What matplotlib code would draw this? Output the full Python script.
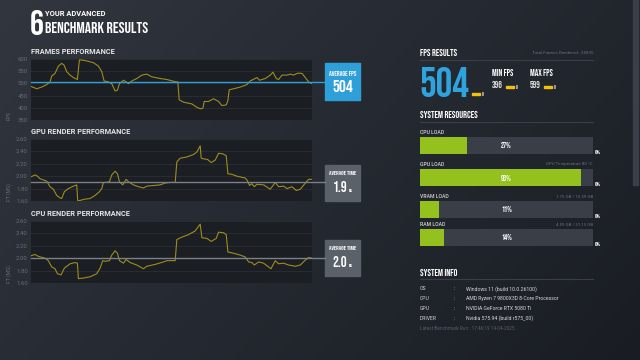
import numpy as np
import matplotlib
matplotlib.use("Agg")
import matplotlib.pyplot as plt
from matplotlib.patches import Rectangle
from matplotlib.ticker import FormatStrFormatter

W, H = 640, 360

# ---- data ----
fps_idx = [0, 17, 32, 47, 57, 62, 72, 82, 92, 99, 107, 117, 127, 139, 145, 152, 167, 187, 202, 212,
           219, 232, 242, 252, 259, 265, 277, 285, 292, 302, 317, 332, 347, 362, 387, 407, 432, 440, 444, 457,
           482, 497, 507, 515, 519, 532, 547, 562, 572, 585, 590, 594, 607, 627, 647, 657, 677, 685, 702, 717,
           725, 735, 742, 752, 767, 777, 787, 799, 812, 822, 832, 842]
fps_vals = [488, 478, 485, 495, 506, 530, 541, 571, 582, 575, 548, 534, 524, 516, 596, 596, 592, 585, 571, 548,
            510, 506, 499, 469, 472, 499, 513, 506, 499, 510, 520, 534, 538, 527, 520, 516, 507, 506, 433, 423,
            416, 402, 396, 398, 426, 426, 437, 426, 409, 412, 430, 474, 478, 485, 495, 510, 524, 513, 520, 534,
            546, 520, 516, 534, 534, 538, 534, 542, 541, 524, 506, 499]

gpu_idx = [0, 12, 17, 27, 47, 57, 67, 77, 87, 92, 100, 112, 127, 137, 140, 147, 162, 177, 192, 205,
           212, 217, 227, 235, 242, 252, 259, 265, 275, 285, 292, 307, 322, 337, 347, 367, 387, 402, 417, 432,
           437, 447, 467, 487, 497, 507, 510, 517, 529, 540, 552, 562, 575, 585, 590, 602, 617, 642, 647, 655,
           662, 669, 677, 697, 717, 732, 742, 757, 767, 782, 795, 807, 819, 832, 842]
gpu_ms = [1.99, 2.02, 2.01, 1.96, 1.92, 1.83, 1.79, 1.69, 1.65, 1.64, 1.75, 1.80, 1.84, 1.86, 1.60, 1.61, 1.63, 1.64, 1.69, 1.75,
          1.80, 1.90, 1.90, 1.91, 2.02, 2.08, 2.04, 1.91, 1.86, 1.95, 1.91, 1.86, 1.83, 1.81, 1.84, 1.85, 1.86, 1.89, 1.90, 1.90,
          2.23, 2.29, 2.31, 2.35, 2.39, 2.49, 2.29, 2.28, 2.27, 2.22, 2.26, 2.37, 2.36, 2.33, 2.04, 2.03, 2.00, 1.97, 1.94, 1.85,
          1.88, 1.83, 1.87, 1.86, 1.79, 1.90, 1.83, 1.84, 1.80, 1.83, 1.77, 1.79, 1.87, 1.95, 1.95]

cpu_idx = [0, 12, 22, 42, 52, 62, 72, 79, 90, 100, 117, 132, 139, 142, 157, 177, 197, 207, 215, 222,
           235, 242, 252, 259, 265, 277, 285, 297, 317, 337, 347, 372, 397, 407, 432, 437, 452, 472, 492, 507,
           512, 527, 540, 555, 562, 577, 585, 590, 607, 627, 642, 652, 662, 669, 682, 697, 719, 732, 742, 757,
           772, 792, 807, 822, 832, 842]
cpu_ms = [2.04, 2.06, 2.03, 2.00, 1.96, 1.86, 1.83, 1.75, 1.73, 1.84, 1.91, 1.93, 1.92, 1.67, 1.68, 1.70, 1.75, 1.84, 1.96, 1.95,
          1.96, 2.05, 2.12, 2.08, 1.96, 1.92, 1.98, 1.93, 1.89, 1.83, 1.87, 1.90, 1.94, 1.96, 1.96, 2.30, 2.34, 2.38, 2.44, 2.55,
          2.33, 2.32, 2.27, 2.32, 2.42, 2.41, 2.38, 2.10, 2.08, 2.05, 2.02, 1.94, 1.93, 1.89, 1.94, 1.92, 1.83, 1.96, 1.91, 1.92,
          1.89, 1.87, 1.89, 1.97, 2.01, 2.00]

avg_fps = 504
avg_gpu = 1.9
avg_cpu = 2.0
min_fps = 396
max_fps = 599
total_frames = 35835

res_names = ["CPU LOAD", "GPU LOAD", "VRAM LOAD", "RAM LOAD"]
res_pct = [27, 93, 11, 14]
res_notes = ["", "GPU Temperature 80 °C", "1.75 GB / 15.59 GB", "4.59 GB / 31.15 GB"]

info_keys = ["OS", "CPU", "GPU", "DRIVER"]
info_vals = ["Windows 11 (build 10.0.26100)", "AMD Ryzen 7 9800X3D 8-Core Processor",
             "NVIDIA GeForce RTX 5080 Ti", "Nvidia 575.94 (build r575_00)"]
run_time = "17:46:19 14-04-2025"

BEBAS = "Bebas Neue"
ROBOTO = "Roboto"
LINE = "#a08c1e"
TICK = "#666c75"

fig = plt.figure(figsize=(W / 100, H / 100), dpi=100)

# background layer in pixel coordinates
bg = fig.add_axes([0, 0, 1, 1], zorder=0)
bg.set_xlim(0, W)
bg.set_ylim(H, 0)
bg.axis("off")
yy, xx = np.mgrid[0:H, 0:W]
a = 0.65 * xx / W + 0.35 * yy / H
c0 = np.array([0x31, 0x36, 0x3f]) / 255
c1 = np.array([0x19, 0x1d, 0x23]) / 255
grad = c0[None, None, :] * (1 - a[..., None]) + c1[None, None, :] * a[..., None]
bg.imshow(grad, extent=[0, W, H, 0], aspect="auto")
bg.add_patch(Rectangle((633, 0), 5, 185, color="#3b4048"))


def px_axes(x0, y0, x1, y1):
    return fig.add_axes([x0 / W, 1 - y1 / H, (x1 - x0) / W, (y1 - y0) / H], zorder=2)


def txt(x, y, s, size, color="white", font=ROBOTO, weight="normal", ha="left", va="center"):
    bg.text(x, y, s, fontsize=size, color=color, family=font, weight=weight, ha=ha, va=va)


# ---- header ----
txt(30, 35, "6", 25, font=BEBAS, va="baseline")
txt(45, 14.5, "YOUR ADVANCED", 5.4, weight="bold")
txt(45, 33, "BENCHMARK RESULTS", 11.3, font=BEBAS, va="baseline")


# ---- left charts ----
def chart(top, bottom, title, idx, vals, lo, hi, step, fmt, ylabel, avg, avg_color):
    txt(31, top - 7.5, title, 5.3, color="#e6e6e6", weight="bold")
    ax = px_axes(31, top, 312, bottom)
    ax.set_facecolor("#1b1e23")
    ax.plot(idx, vals, color=LINE, lw=0.8, zorder=3)
    ax.set_xlim(idx[0], idx[-1])
    ax.set_ylim(lo, hi)
    ax.set_yticks(np.arange(lo, hi + step / 2, step))
    ax.yaxis.set_major_formatter(FormatStrFormatter(fmt))
    ax.set_xticks([])
    ax.grid(axis="y", color="#2b2f36", lw=0.6)
    ax.set_axisbelow(True)
    ax.tick_params(axis="y", length=0, pad=2.2, labelsize=4.3, labelcolor=TICK)
    for lab in ax.get_yticklabels():
        lab.set_family(ROBOTO)
    for s in ax.spines.values():
        s.set_visible(False)
    ax.set_ylabel(ylabel, loc="bottom", fontsize=3.6, color=TICK, family=ROBOTO)
    ax.yaxis.set_label_coords(-19 / 281, 0)
    ax.axhline(avg, xmin=0, xmax=(325 - 31) / 281, color=avg_color, lw=1, clip_on=False, zorder=4)
    return ax


chart(59, 120, "FRAMES PERFORMANCE", fps_idx, fps_vals, 350, 600, 50, "%d", "FPS", avg_fps, "#2f9fd9")
chart(139, 201, "GPU RENDER PERFORMANCE", gpu_idx, gpu_ms, 1.6, 2.6, 0.2, "%.2f", "FT (MS)", avg_gpu, "#7b818a")
chart(221, 283, "CPU RENDER PERFORMANCE", cpu_idx, cpu_ms, 1.6, 2.6, 0.2, "%.2f", "FT (MS)", avg_cpu, "#7b818a")

# average boxes
bg.add_patch(Rectangle((325, 63), 35, 37, color="#2f9fd9"))
txt(342.5, 73, "AVERAGE FPS", 5.0, font=BEBAS, ha="center")
txt(342.5, 92, f"{avg_fps}", 12.3, font=BEBAS, ha="center", va="baseline")

for top, val in [(165, avg_gpu), (240, avg_cpu)]:
    bg.add_patch(Rectangle((325, top), 35, 36, color="#5b6169"))
    txt(342.5, top + 8, "AVERAGE TIME", 4.6, font=BEBAS, ha="center")
    txt(347, top + 27, f"{val:.1f}", 10.5, font=BEBAS, ha="right", va="baseline")
    txt(349, top + 27, "MS", 3.2, font=BEBAS, va="baseline")

# ---- right panel ----
RX0, RX1 = 420, 593
SEP = "#393e47"
GREY = "#6a7079"

txt(RX0, 52, "FPS RESULTS", 6.8, font=BEBAS)
txt(RX1, 53, f"Total Frames Rendered : {total_frames}", 3.2, color=GREY, ha="right")
bg.plot([RX0, RX1], [59.5, 59.5], color=SEP, lw=0.8)

txt(RX0 - 1, 97, f"{avg_fps}", 30, color="#2fa3dd", font=BEBAS, va="baseline")
bg.add_patch(Rectangle((472, 93), 8, 2.2, color="#f0c20e"))
txt(482, 94, "0", 3.3, font=BEBAS)

for x0, lab, val in [(492, "MIN FPS", min_fps), (530, "MAX FPS", max_fps)]:
    txt(x0, 75.5, lab, 6.3, font=BEBAS, va="baseline")
    txt(x0, 88.5, f"{val}", 6.6, color="#e0e0e0", font=BEBAS, va="baseline")
    bg.add_patch(Rectangle((x0 + 14, 86), 7.5, 2.2, color="#f0c20e"))
    txt(x0 + 24, 87, "0", 3.3, font=BEBAS)

txt(RX0, 115, "SYSTEM RESOURCES", 6.8, font=BEBAS)
bg.plot([RX0, RX1], [122, 122], color=SEP, lw=0.8)

bar_tops = [137, 169, 201, 229]
for name, pct, note, top in zip(res_names, res_pct, res_notes, bar_tops):
    txt(RX0, top - 4.5, name, 3.7, color="#d6d6d6", weight="medium")
    if note:
        txt(RX1, top - 4.5, note, 3.2, color=GREY, ha="right")
    bax = px_axes(RX0, top, RX1, top + 17)
    bax.barh([0], [100], height=1, color="#3a3f47")
    bax.barh([0], [pct], height=1, color="#95c11f")
    bax.set_xlim(0, 100)
    bax.set_ylim(-0.5, 0.5)
    bax.axis("off")
    bax.text(50, 0, f"{pct}%", fontsize=5.6, color="white", family=BEBAS, ha="center", va="center")
    txt(595, top + 15, "0%", 4.5, font=BEBAS)

txt(RX0, 272, "SYSTEM INFO", 6.8, font=BEBAS)
bg.plot([RX0, RX1], [279, 279], color=SEP, lw=0.8)
for i, (k, v) in enumerate(zip(info_keys, info_vals)):
    y = 289 + i * 9.7
    txt(RX0, y, k, 3.7, color="#d0d0d0")
    txt(454, y, ":", 3.7, color="#d0d0d0")
    txt(466, y, v, 3.7, color="#d8d8d8")
txt(RX0, 328, f"Latest Benchmark Run : {run_time}", 3.4, color="#565c65")

fig.savefig("out.png", dpi=100, facecolor=fig.get_facecolor())
